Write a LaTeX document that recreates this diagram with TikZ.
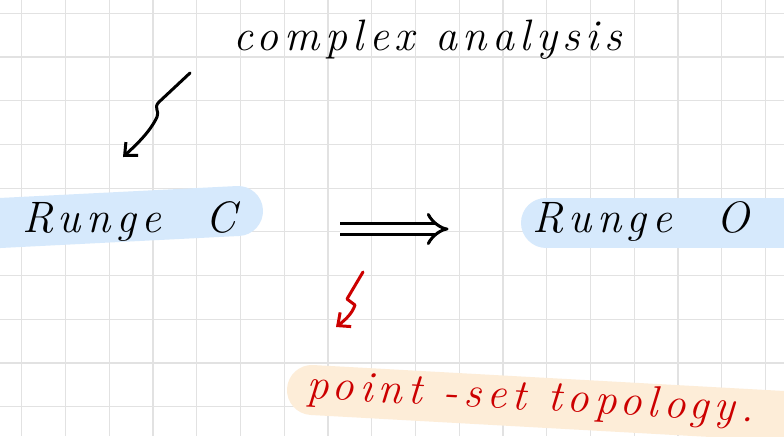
\documentclass[tikz,border=0pt]{standalone}
\usepackage{fontspec}
\usetikzlibrary{arrows.meta}
\definecolor{gridgray}{RGB}{226,226,226}
\definecolor{hlblue}{RGB}{214,233,252}
\definecolor{hlorange}{RGB}{253,237,216}
\definecolor{penred}{RGB}{204,0,0}
\newfontfamily\handfont[LetterSpace=12.5]{Latin Modern Roman}
\newcommand{\hand}{\handfont\itshape\fontsize{22}{26}\selectfont}

\begin{document}
\begin{tikzpicture}[x=0.5pt,y=-0.5pt,
	pen/.style={line width=1.5pt,line cap=round,line join=round},
	band/.style={line width=25pt,line cap=round},
	tip/.style={-{Straight Barb[length=5pt,width=9pt]}}]
	\useasboundingbox (0,0) rectangle (784,436);
	\clip (0,0) rectangle (784,436);
	\fill[white] (0,0) rectangle (784,436);
	% grid paper
	\foreach \i in {0,...,17}
		\draw[gridgray,line width=0.6pt] ({21.7+43.75*\i},0) -- ({21.7+43.75*\i},436);
	\foreach \j in {0,...,9}
		\draw[gridgray,line width=0.6pt] (0,{13.3+43.7*\j}) -- (784,{13.3+43.7*\j});
	% marker strokes
	\draw[band,hlblue] (-20,224) -- (238,211);
	\draw[band,hlblue] (546,222.5) -- (820,222.5);
	\draw[band,hlorange] (312,390) -- (820,418);
	\begin{scope}[every node/.style={font=\hand,anchor=base,inner sep=0pt}]
	\node (ca) at (428,50) {complex analysis};
	\node (rc) at (129,232) {Runge\quad C};
	\node (ro) at (641,232) {Runge\quad O};
	\node[penred,rotate=-3] (pt) at (530,410) {point -set topology.};
	\end{scope}
	\coordinate (caT) at (190,73);
	\coordinate (rcT) at (123,157);
	\coordinate (impB) at (363,272);
	\coordinate (ptT) at (336,327);
	\draw[pen,tip] (caT) -- (159,102) .. controls (153,108) and (160,111) .. (157,117) .. controls (150,132) and (136,145) .. (rcT);
	\draw[pen,line cap=butt,double,double distance=4pt,-{Implies},shorten <=52pt,shorten >=42pt] ([yshift=1.5pt]rc.base east) -- ([yshift=1.5pt]ro.base west);
	\draw[pen,penred,tip] (impB) -- (347,299) -- (355,305) .. controls (352,314) and (345,320) .. (ptT);
\end{tikzpicture}
\end{document}
